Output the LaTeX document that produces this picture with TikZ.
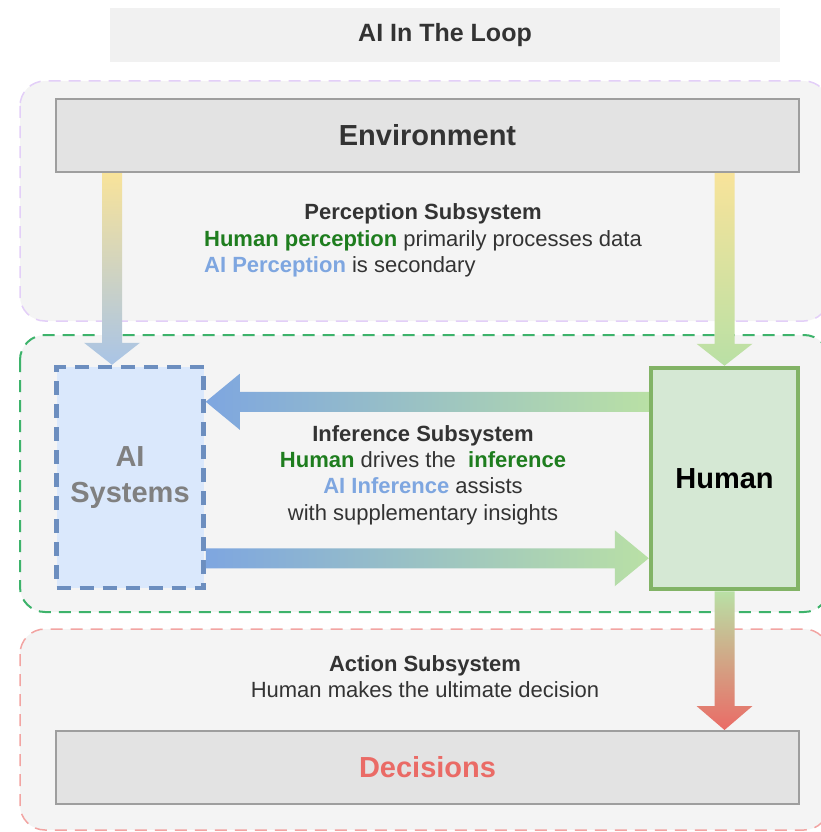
\documentclass[tikz,border=0pt]{standalone}
\usepackage{fontspec}
\setmainfont{Liberation Sans}
\usetikzlibrary{calc}

\definecolor{panelgray}{HTML}{F4F4F4}
\definecolor{titlegray}{HTML}{F1F1F1}
\definecolor{boxgray}{HTML}{E3E3E3}
\definecolor{edgegray}{HTML}{9E9E9E}
\definecolor{txtgray}{HTML}{333333}
\definecolor{lavender}{HTML}{E3CFF8}
\definecolor{dashgreen}{HTML}{3DB36B}
\definecolor{dashred}{HTML}{F2A4A2}
\definecolor{aifill}{HTML}{DAE8FC}
\definecolor{aiedge}{HTML}{6C8EBF}
\definecolor{humfill}{HTML}{D5E8D4}
\definecolor{humedge}{HTML}{82B366}
\definecolor{darkgreen}{HTML}{1E7D1E}
\definecolor{softblue}{HTML}{7EA6E0}
\definecolor{softred}{HTML}{EA6B66}
\definecolor{softyellow}{HTML}{F8E39A}
\definecolor{softgreen}{HTML}{B9E0A5}
\definecolor{paleblue}{HTML}{A9C4E6}

% fat arrow: [head length] style, from, to
\newcommand\fatarrow[4][24]{%
  \coordinate (fa-a) at #3;
  \coordinate (fa-b) at #4;
  \coordinate (fa-h) at ($(fa-b)!#1pt!(fa-a)$);
  \path[#2] ($(fa-a)!10pt!90:(fa-b)$) -- ($(fa-h)!10pt!90:(fa-b)$)
    -- ($(fa-h)!28pt!90:(fa-b)$) -- (fa-b) -- ($(fa-h)!28pt!-90:(fa-b)$)
    -- ($(fa-h)!10pt!-90:(fa-b)$) -- ($(fa-a)!10pt!-90:(fa-b)$) -- cycle;}

\begin{document}
\begin{tikzpicture}[x=1pt,y=-1pt,
  panel/.style={rounded corners=25pt,fill=panelgray,dash pattern=on 12pt off 8pt,line width=1.5pt},
  bar/.style={draw=edgegray,fill=boxgray,line width=2pt,minimum width=743pt,minimum height=73pt,
    font=\fontsize{29}{34}\selectfont\bfseries},
  actor/.style={minimum width=147pt,minimum height=221pt,line width=4.5pt,align=center,
    font=\fontsize{29}{36}\selectfont\bfseries},
  note/.style={text=txtgray,font=\fontsize{22}{26.3}\selectfont,align=center}]
\useasboundingbox (0,0) rectangle (821,832);
\clip (0,0) rectangle (821,832);

% subsystem panels
\draw[panel,draw=lavender] (20,81) rectangle (829,321);
\draw[panel,draw=dashgreen,line width=2pt] (20,335) rectangle (829,612);
\draw[panel,draw=dashred] (20,629) rectangle (829,830);

% title
\node[fill=titlegray,minimum width=670pt,minimum height=54pt,text=txtgray,
  font=\fontsize{25}{30}\selectfont\bfseries] (title) at (445,35) {AI In The Loop};

% boxes
\node[bar,text=txtgray] (env) at (427.5,135.5) {Environment};
\node[bar,text=softred] (dec) at (427.5,767.5) {Decisions};
\node[actor,fill=aifill,draw=aiedge,dash pattern=on 14pt off 9pt,text=gray] (ai) at (130,477.5) {AI\\Systems};
\node[actor,fill=humfill,draw=humedge] (hum) at (724.5,478.5) {Human};

% arrows
\coordinate (aiin) at ([xshift=-18pt]ai.north);
\coordinate (hin) at ([yshift=-36pt]hum.north west);
\coordinate (aiout) at ([yshift=32pt]ai.south east);
\fatarrow[22]{top color=softyellow,bottom color=paleblue}{(env.south -| aiin)}{(aiin)}
\fatarrow[22]{top color=softyellow,bottom color=softgreen}{(env.south -| hum.north)}{(hum.north)}
\fatarrow[34]{left color=softblue,right color=softgreen}{(hin)}{(ai.east |- hin)}
\fatarrow[34]{left color=softblue,right color=softgreen}{(aiout)}{(hum.west |- aiout)}
\fatarrow[24]{top color=softgreen,bottom color=softred}{(hum.south)}{(dec.north -| hum.south)}

% subsystem texts
\node[note] (percept) at (423,241) {\begin{tabular}{@{}l@{}}
  \multicolumn{1}{@{}c@{}}{\bfseries Perception Subsystem}\\
  {\color{darkgreen}\bfseries Human perception} primarily processes data\\
  {\color{softblue}\bfseries AI Perception} is secondary\end{tabular}};
\node[note] (infer) at (423,475) {\bfseries Inference Subsystem\\
  {\color{darkgreen}\bfseries Human} drives the\ \ {\color{darkgreen}\bfseries inference}\\
  {\color{softblue}\bfseries AI Inference} assists\\
  with supplementary insights};
\node[note] (act) at (425,676.5) {\bfseries Action Subsystem\\
  Human makes the ultimate decision};
\end{tikzpicture}
\end{document}
